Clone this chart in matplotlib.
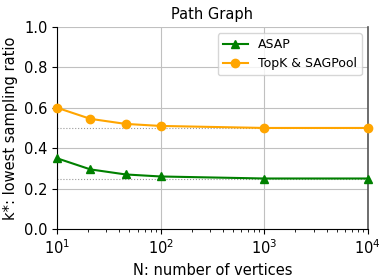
import matplotlib
matplotlib.use('Agg')
import matplotlib.pyplot as plt
import numpy as np

matplotlib.rcParams.update({'font.size': 10.5})

n_vertices = [10, 21, 46, 100, 1000, 10000]
asap = [0.35, 0.295, 0.27, 0.26, 0.25, 0.25]
topk_sag = [0.60, 0.545, 0.52, 0.51, 0.50, 0.50]

fig, ax = plt.subplots(figsize=[3.88, 2.8], dpi=100)
ax.plot([10, 10000], [0.5, 0.5], ':', color='#999999', lw=0.8)
ax.plot([10, 10000], [0.25, 0.25], ':', color='#999999', lw=0.8)
ax.plot(n_vertices, asap, color='green', marker='^', ms=6, lw=1.5, label='ASAP', clip_on=False, zorder=3)
ax.plot(n_vertices, topk_sag, color='orange', marker='o', ms=6, lw=1.5, label='TopK & SAGPool', clip_on=False, zorder=3)
ax.set_xscale('log')
ax.set_xlim(10, 10000)
ax.set_ylim(0, 1.0)
ax.grid(True, which='major', color='#c0c0c0', lw=0.8)
ax.spines['top'].set_visible(False)
ax.spines['right'].set_color('#555555')
ax.spines['right'].set_linewidth(1.2)
ax.set_title('Path Graph', fontsize=10.5)
ax.set_xlabel('N: number of vertices')
ax.set_ylabel('k*: lowest sampling ratio')
ax.legend(loc='upper right', fontsize=9)
fig.subplots_adjust(left=0.147, right=0.948, top=0.904, bottom=0.182)
fig.savefig('out.png')
